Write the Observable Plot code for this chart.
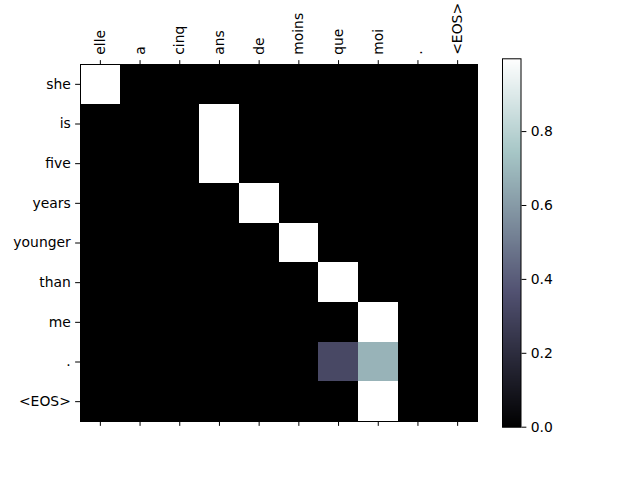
<!DOCTYPE html>
<html>
<head>
<meta charset="utf-8">
<script src="https://cdn.jsdelivr.net/npm/d3@7"></script>
<script src="https://cdn.jsdelivr.net/npm/@observablehq/plot@0.6"></script>
<style>
  html, body { margin: 0; padding: 0; background: white; }
  #wrap { position: relative; width: 640px; height: 480px; }
  #wrap > svg { position: absolute; left: 0; top: 0; }
</style>
</head>
<body>
<div id="wrap"></div>
<script>
// Source (input) tokens, shown along the top
const inputWords = ["elle", "a", "cinq", "ans", "de", "moins", "que", "moi", ".", "<EOS>"];
// Output tokens, shown along the left
const outputWords = ["she", "is", "five", "years", "younger", "than", "me", ".", "<EOS>"];
// Attention weights, one row per output token
const attShe     = [0.997, 0, 0, 0, 0, 0, 0, 0, 0, 0];
const attIs      = [0, 0, 0, 0.997, 0, 0, 0, 0, 0, 0];
const attFive    = [0, 0, 0, 0.997, 0, 0, 0, 0, 0, 0];
const attYears   = [0, 0, 0, 0, 0.997, 0, 0, 0, 0, 0];
const attYounger = [0, 0, 0, 0, 0, 0.997, 0, 0, 0, 0];
const attThan    = [0, 0, 0, 0, 0, 0, 0.997, 0, 0, 0];
const attMe      = [0, 0, 0, 0, 0, 0, 0, 0.997, 0, 0];
const attDot     = [0, 0, 0, 0, 0, 0, 0.32, 0.68, 0, 0];
const attEOS     = [0, 0, 0, 0, 0, 0, 0, 0.997, 0, 0];
const attention = [attShe, attIs, attFive, attYears, attYounger, attThan, attMe, attDot, attEOS];
const colorTicks = [0.0, 0.2, 0.4, 0.6, 0.8];

const cells = [];
attention.forEach((row, i) => row.forEach((v, j) => cells.push({out: outputWords[i], inp: inputWords[j], v})));
const vmax = d3.max(cells, d => d.v);

// matplotlib "bone" colormap
const boneR = d3.scaleLinear().domain([0, 0.746032, 1]).range([0, 0.652778, 1]).clamp(true);
const boneG = d3.scaleLinear().domain([0, 0.365079, 0.746032, 1]).range([0, 0.319444, 0.777778, 1]).clamp(true);
const boneB = d3.scaleLinear().domain([0, 0.365079, 1]).range([0, 0.444444, 1]).clamp(true);
const bone = t => d3.rgb(boneR(t) * 255, boneG(t) * 255, boneB(t) * 255).formatHex();

const font = {fontFamily: "DejaVu Sans", fontSize: "13.9px", color: "black", background: "transparent", overflow: "visible"};
const tickLen = 4.86;

const heat = Plot.plot({
  width: 640, height: 480,
  marginLeft: 80, marginRight: 163, marginTop: 64, marginBottom: 59,
  style: font,
  x: {domain: inputWords, padding: 0, round: false, label: null},
  y: {domain: outputWords, padding: 0, round: false, label: null},
  color: {type: "linear", domain: [0, vmax], interpolate: bone},
  marks: [
    Plot.cell(cells, {x: "inp", y: "out", fill: "v", inset: 0, shapeRendering: "crispEdges"}),
    Plot.frame({stroke: "black", strokeWidth: 1}),
    Plot.axisX({anchor: "top", tickRotate: -90, tickSize: tickLen, tickPadding: 4.86, label: null}),
    Plot.axisX({anchor: "bottom", tickSize: tickLen, tickFormat: () => "", label: null}),
    Plot.axisY({anchor: "left", tickSize: tickLen, tickPadding: 4.86, label: null})
  ]
});

const bar = Plot.plot({
  width: 640, height: 480,
  marginLeft: 502, marginRight: 119.5, marginTop: 58.3, marginBottom: 53.3,
  style: font,
  x: {domain: [0, 1], axis: null},
  y: {domain: [0, vmax], label: null},
  color: {type: "linear", domain: [0, vmax], interpolate: bone},
  marks: [
    Plot.raster({fill: (x, y) => y, x1: 0, x2: 1, y1: 0, y2: vmax, width: 1, height: 370, imageRendering: "auto"}),
    Plot.frame({stroke: "black", strokeWidth: 1}),
    Plot.axisY({anchor: "right", ticks: colorTicks, tickFormat: d3.format(".1f"), tickSize: tickLen, tickPadding: 4.86, label: null})
  ]
});

document.getElementById("wrap").append(heat, bar);
</script>
</body>
</html>
